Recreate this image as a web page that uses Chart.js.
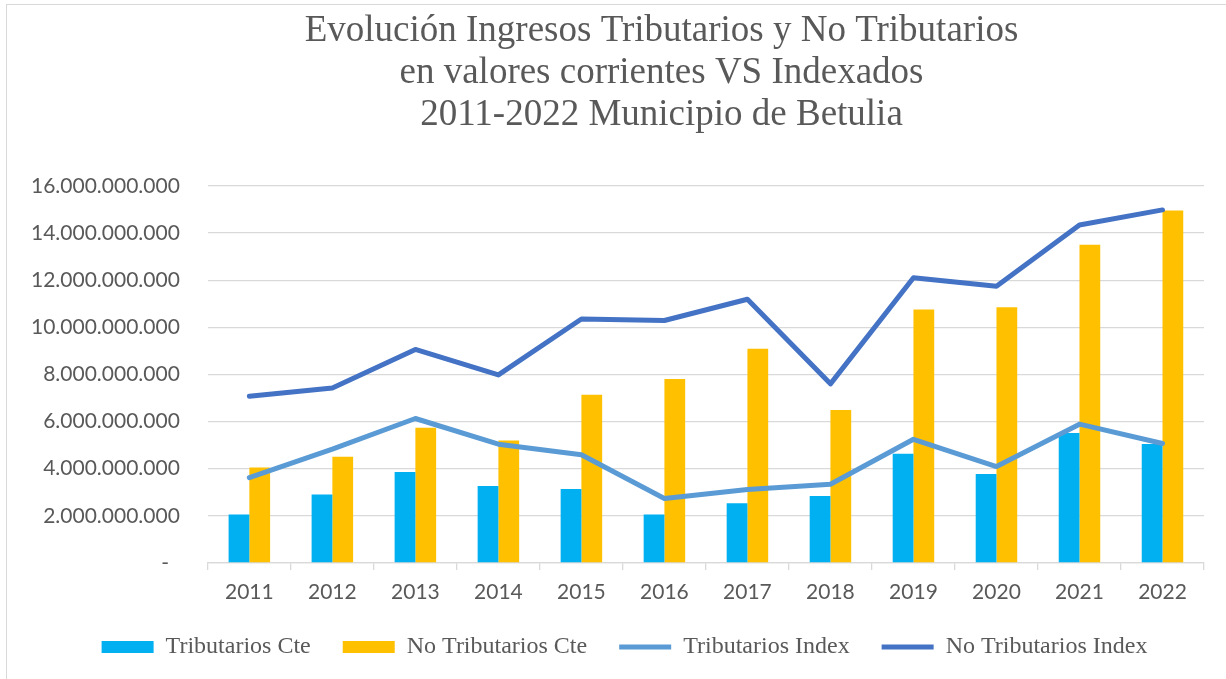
<!DOCTYPE html>
<html>
<head>
<meta charset="utf-8">
<script src="https://cdn.jsdelivr.net/npm/chart.js@4.4.0/dist/chart.umd.min.js"></script>
<style>
html, body { margin: 0; padding: 0; background: #fff; overflow: hidden; }
#wrap { position: relative; width: 1226px; height: 679px; overflow: hidden; }
#frame { position: absolute; left: 6px; top: 4px; width: 1240px; height: 700px; border: 1px solid #d9d9d9; }
canvas { position: absolute; left: 0; top: 0; }
</style>
</head>
<body>
<div id="wrap">
  <div id="frame"></div>
  <canvas id="grafIngresos" width="1246" height="679"></canvas>
</div>
<script>
const anios = ['2011', '2012', '2013', '2014', '2015', '2016', '2017', '2018', '2019', '2020', '2021', '2022'];
const tributariosCte = [2060000000, 2910000000, 3860000000, 3270000000, 3140000000, 2060000000, 2530000000, 2840000000, 4630000000, 3780000000, 5520000000, 5050000000];
const noTributariosCte = [4050000000, 4510000000, 5740000000, 5200000000, 7140000000, 7810000000, 9090000000, 6490000000, 10750000000, 10850000000, 13500000000, 14950000000];
const tributariosIndex = [3620000000, 4830000000, 6130000000, 5040000000, 4590000000, 2740000000, 3120000000, 3340000000, 5250000000, 4090000000, 5890000000, 5070000000];
const noTributariosIndex = [7070000000, 7420000000, 9060000000, 7980000000, 10350000000, 10290000000, 11190000000, 7600000000, 12100000000, 11740000000, 14340000000, 14980000000];
const titulo = ['Evolución Ingresos Tributarios y No Tributarios', 'en valores corrientes VS Indexados', '2011-2022 Municipio de Betulia'];

const gris = '#595959';
const rejilla = '#d9d9d9';
const celeste = '#00B0F0';
const amarillo = '#FFC000';
const azulClaro = '#5B9BD5';
const azul = '#4472C4';

function miles(v) {
  if (v === 0) return '-  ';
  return String(Math.round(v)).replace(/\B(?=(\d{3})+(?!\d))/g, '.');
}

// el titulo de Excel va algo corrido a la derecha
const sangria = '        ';

const ctx = document.getElementById('grafIngresos');

new Chart(ctx, {
  type: 'bar',
  data: {
    labels: anios,
    datasets: [{
      label: 'Tributarios Cte',
      data: tributariosCte,
      backgroundColor: celeste,
      borderWidth: 0,
      order: 2
    }, {
      label: 'No Tributarios Cte',
      data: noTributariosCte,
      backgroundColor: amarillo,
      borderWidth: 0,
      order: 2
    }, {
      type: 'line',
      label: 'Tributarios Index',
      data: tributariosIndex,
      borderColor: azulClaro,
      backgroundColor: azulClaro,
      borderWidth: 5,
      pointRadius: 0,
      borderCapStyle: 'round',
      borderJoinStyle: 'round',
      fill: false,
      order: 1
    }, {
      type: 'line',
      label: 'No Tributarios Index',
      data: noTributariosIndex,
      borderColor: azul,
      backgroundColor: azul,
      borderWidth: 5,
      pointRadius: 0,
      borderCapStyle: 'round',
      borderJoinStyle: 'round',
      fill: false,
      order: 1
    }]
  },
  options: {
    responsive: false,
    animation: false,
    categoryPercentage: 0.5,
    barPercentage: 1,
    layout: {
      padding: { left: 3, right: 0, top: 0, bottom: 10 }
    },
    scales: {
      x: {
        offset: true,
        grid: {
          offset: true,
          drawOnChartArea: false,
          drawTicks: true,
          tickLength: 7,
          color: rejilla,
          lineWidth: 1.3
        },
        border: { color: rejilla, width: 1.3 },
        ticks: {
          font: { family: 'Lato', size: 21, lineHeight: 1 },
          color: gris,
          padding: 12
        },
        // chart.js cuenta el padding dos veces
        afterFit: function (scale) { scale.height -= 12; }
      },
      y: {
        min: 0,
        max: 16000000000,
        ticks: {
          stepSize: 2000000000,
          callback: miles,
          font: { family: 'Lato', size: 21 },
          color: gris,
          padding: 28
        },
        grid: { color: rejilla, lineWidth: 1.3, drawTicks: false },
        border: { display: false }
      },
      // eje vacio a la derecha: solo deja el margen derecho del grafico
      margen: {
        type: 'linear',
        position: 'right',
        grid: { display: false },
        ticks: { display: false },
        border: { display: false },
        afterFit: function (scale) { scale.width = 42; }
      }
    },
    plugins: {
      tooltip: { enabled: false },
      title: {
        display: true,
        text: titulo.map(function (t) { return sangria + t; }),
        color: gris,
        font: { family: 'Liberation Serif', size: 37, weight: 'normal', lineHeight: 1.143 },
        padding: { top: 10, bottom: 49 }
      },
      legend: {
        position: 'bottom',
        labels: {
          font: { family: 'Liberation Serif', size: 24 },
          color: gris,
          usePointStyle: true,
          pointStyleWidth: 52,
          boxHeight: 12,
          padding: 32,
          sort: function (a, b) { return a.datasetIndex - b.datasetIndex; },
          generateLabels: function (chart) {
            const items = Chart.defaults.plugins.legend.labels.generateLabels(chart);
            items.forEach(function (it) {
              it.pointStyle = it.datasetIndex < 2 ? 'rect' : 'line';
            });
            return items;
          }
        }
      }
    }
  }
});
</script>
</body>
</html>
